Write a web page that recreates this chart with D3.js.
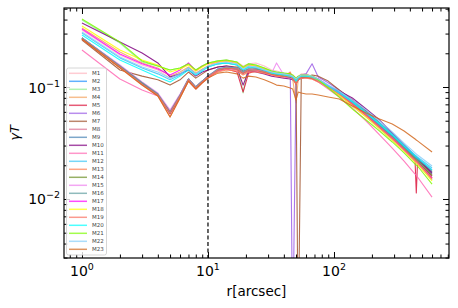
<!DOCTYPE html>
<html lang="en">
<head>
<meta charset="UTF-8">
<title>gamma_T profiles</title>
<script src="https://cdn.jsdelivr.net/npm/d3@7"></script>
<style>
  body { margin: 0; background: #fff; }
  svg { display: block; font-family: "DejaVu Sans", sans-serif; }
</style>
</head>
<body>
<svg width="458" height="308"></svg>
<script>
// radius grid [arcsec], shared by every profile
var radii = [1, 2, 3, 4, 5, 6, 7, 8, 9, 10, 12, 14, 17, 19, 21, 24, 28, 32, 35, 40, 45, 47, 50, 52, 55, 60, 67, 75, 90, 110, 140, 180, 230, 290, 360, 440, 450, 460, 600];

var names = ["M1", "M2", "M3", "M4", "M5", "M6", "M7", "M8", "M9", "M10", "M11", "M12",
    "M13", "M14", "M15", "M16", "M17", "M18", "M19", "M20", "M21", "M22", "M23"];

var colors = ["#ffb6c1", "#1e90ff", "#90ee90", "#f4a460", "#dc143c", "#9b5de5", "#a0522d", "#db7093",
    "#4682b4", "#800080", "#ff69b4", "#3cc6f5", "#ff7f50", "#6b8e23", "#ee82ee", "#5f9ea0",
    "#ff00ff", "#ffff00", "#fa7060", "#00ffff", "#7cfc00", "#87cefa", "#d2691e"];

// gamma_T values, one entry per radius
var M1 = [.323, .193, .157, .142, .120, .131, .148, .131, .142, .154, .167, .174, .167, .154, .161, .164, .154, .142, .139, .133, .131, .128, .120, .125, .131, .131, .125, .118, .104, .0884, .0720, .0574, .0449, .0351, .0280, .0228, .0223, .0218, .0160];
var M2 = [.274, .154, .109, .0866, .0598, .0848, .118, .100, .113, .125, .145, .151, .148, .136, .145, .142, .136, .133, .128, .125, .125, .120, .109, .118, .123, .125, .120, .116, .102, .0884, .0720, .0574, .0449, .0358, .0285, .0232, .0228, .0223, .0167];
var M3 = [.397, .247, .167, .154, .142, .148, .161, .142, .154, .164, .171, .174, .167, .0884, .161, .157, .148, .139, .136, .133, .128, .125, .118, .123, .128, .128, .125, .118, .102, .0866, .0691, .0551, .0431, .0343, .0274, .0218, .0214, .0210, .0148];
var M4 = [.336, .205, .164, .148, .125, .136, .151, .133, .145, .154, .161, .164, .157, .142, .151, .148, .139, .131, .128, .125, .123, .118, .0720, .116, .123, .123, .120, .116, .102, .0902, .0735, .0586, .0458, .0365, .0291, .0237, .0232, .0228, .0174];
var M5 = [.268, .151, .106, .0848, .0574, .0814, .113, .0960, .109, .120, .139, .145, .136, .0902, .133, .139, .133, .131, .125, .128, .131, .120, .106, .116, .120, .123, .120, .113, .100, .0848, .0691, .0551, .0431, .0343, .0274, .0218, .0113, .0210, .0154];
var M6 = [.274, .154, .109, .0866, .0611, .0848, .118, .100, .113, .125, .142, .148, .145, .136, .142, .145, .139, .133, .131, .128, .125, .0005, .116, .123, .128, .131, .161, .123, .109, .0940, .0766, .0611, .0477, .0381, .0297, .0242, .0237, .0232, .0182];
var M7 = [.263, .142, .125, .116, .104, .116, .136, .120, .131, .142, .151, .154, .151, .139, .145, .145, .139, .131, .128, .125, .123, .120, .113, .0005, .120, .123, .128, .125, .113, .0940, .0766, .0611, .0477, .0373, .0291, .0237, .0232, .0228, .0164];
var M8 = [.268, .151, .106, .0848, .0598, .0831, .116, .0980, .111, .123, .142, .148, .142, .131, .139, .139, .136, .131, .128, .123, .123, .120, .111, .118, .123, .123, .120, .113, .100, .0848, .0691, .0551, .0431, .0343, .0274, .0223, .0218, .0214, .0160];
var M9 = [.274, .151, .106, .0848, .0586, .0831, .116, .0980, .111, .123, .142, .148, .145, .133, .142, .142, .136, .131, .128, .125, .120, .118, .109, .116, .120, .123, .120, .116, .102, .0884, .0735, .0586, .0458, .0365, .0291, .0237, .0232, .0228, .0174];
var M10 = [.373, .252, .201, .164, .123, .131, .142, .125, .136, .142, .151, .154, .148, .104, .139, .136, .131, .125, .123, .120, .118, .116, .111, .116, .120, .125, .125, .116, .102, .0921, .0798, .0636, .0507, .0389, .0304, .0242, .0237, .0232, .0171];
var M11 = [.214, .118, .0940, .0831, .0598, .0831, .116, .0980, .111, .123, .139, .145, .142, .131, .139, .139, .133, .128, .125, .123, .120, .118, .109, .116, .120, .120, .118, .111, .0960, .0814, .0649, .0497, .0373, .0285, .0218, .0167, .0164, .0157, .0104];
var M12 = [.304, .182, .148, .131, .116, .128, .148, .131, .142, .151, .161, .164, .157, .142, .151, .148, .139, .133, .131, .128, .125, .123, .116, .120, .125, .125, .123, .116, .102, .0902, .0750, .0598, .0477, .0381, .0304, .0247, .0242, .0237, .0189];
var M13 = [.268, .148, .104, .0831, .0540, .0798, .113, .0960, .109, .120, .136, .142, .139, .128, .136, .136, .133, .128, .125, .123, .136, .118, .106, .116, .120, .120, .118, .111, .0980, .0848, .0691, .0551, .0431, .0343, .0274, .0218, .0214, .0210, .0154];
var M14 = [.274, .154, .109, .0866, .0598, .0848, .118, .100, .113, .125, .142, .148, .145, .133, .142, .142, .136, .131, .128, .125, .123, .120, .111, .118, .123, .123, .120, .113, .100, .0866, .0705, .0562, .0439, .0351, .0280, .0228, .0223, .0218, .0160];
var M15 = [.274, .157, .111, .0884, .0623, .0866, .118, .100, .113, .125, .145, .151, .148, .136, .145, .142, .139, .133, .164, .128, .125, .123, .113, .120, .125, .125, .123, .113, .0980, .0848, .0677, .0540, .0422, .0336, .0268, .0214, .0210, .0205, .0148];
var M16 = [.274, .154, .109, .0866, .0598, .0848, .118, .100, .113, .125, .145, .151, .148, .136, .145, .145, .139, .133, .131, .128, .125, .123, .113, .120, .125, .125, .123, .116, .102, .0884, .0735, .0586, .0458, .0365, .0291, .0237, .0232, .0228, .0178];
var M17 = [.330, .197, .161, .145, .128, .142, .164, .139, .154, .161, .167, .171, .164, .148, .157, .154, .145, .136, .133, .131, .128, .125, .118, .123, .128, .128, .125, .118, .102, .0884, .0705, .0562, .0439, .0351, .0274, .0218, .0214, .0210, .0154];
var M18 = [.351, .214, .174, .157, .136, .145, .157, .139, .151, .161, .167, .171, .164, .148, .157, .154, .145, .136, .133, .131, .128, .125, .118, .123, .128, .128, .125, .116, .100, .0848, .0677, .0540, .0422, .0336, .0268, .0214, .0210, .0205, .0145];
var M19 = [.268, .151, .106, .0848, .0586, .0831, .116, .0980, .111, .123, .142, .148, .145, .133, .142, .142, .136, .131, .128, .125, .125, .120, .111, .118, .123, .123, .120, .113, .100, .0866, .0705, .0562, .0439, .0351, .0280, .0223, .0218, .0214, .0151];
var M20 = [.291, .174, .142, .123, .111, .125, .142, .128, .139, .151, .161, .164, .157, .142, .151, .151, .142, .133, .131, .128, .125, .123, .113, .120, .125, .125, .123, .116, .102, .0884, .0735, .0586, .0467, .0373, .0297, .0242, .0237, .0232, .0182];
var M21 = [.405, .252, .171, .154, .142, .148, .161, .142, .154, .164, .171, .174, .167, .151, .161, .157, .148, .139, .136, .133, .131, .128, .120, .125, .128, .128, .125, .116, .0980, .0814, .0636, .0507, .0405, .0323, .0258, .0205, .0201, .0197, .0136];
var M22 = [.310, .185, .151, .136, .120, .131, .148, .131, .142, .154, .164, .167, .161, .145, .154, .151, .142, .136, .133, .131, .128, .125, .118, .123, .128, .128, .125, .118, .104, .0921, .0766, .0623, .0497, .0397, .0316, .0258, .0252, .0247, .0197];
var M23 = [.268, .148, .104, .0831, .0540, .0798, .113, .0960, .109, .120, .133, .136, .131, .120, .125, .123, .116, .109, .104, .102, .0980, .0960, .0766, .0902, .0884, .0866, .0866, .0848, .0814, .0781, .0677, .0586, .0518, .0467, .0405, .0343, .0336, .0330, .0263];

var profiles = [M1, M2, M3, M4, M5, M6, M7, M8, M9, M10, M11, M12, M13, M14, M15, M16, M17, M18, M19, M20, M21, M22, M23];

// tick values
var xMajor = [1, 10, 100];
var xMinor = [0.8, 0.9, 2, 3, 4, 5, 6, 7, 8, 9, 20, 30, 40, 50, 60, 70, 80, 90, 200, 300, 400, 500, 600, 700, 800];
var yMajor = [0.01, 0.1];
var yMinor = [0.003, 0.004, 0.005, 0.006, 0.007, 0.008, 0.009, 0.02, 0.03, 0.04, 0.05, 0.06, 0.07, 0.08, 0.09, 0.2, 0.3, 0.4, 0.5];
var xTickLabels = ["0", "1", "2"];
var yTickLabels = ["\u22122", "\u22121"];
var rCut = 10;

var svg = d3.select("svg");
// plot box (window.top is read-only, so no "top" here)
var px0 = 64, px1 = 449, py0 = 8, py1 = 258;

var x = d3.scaleLog().domain([0.72, 818]).range([px0, px1]);
var y = d3.scaleLog().domain([0.002972, 0.5075]).range([py1, py0]);

svg.append("defs").append("clipPath").attr("id", "plotArea")
    .append("rect")
    .attr("x", px0).attr("y", py0)
    .attr("width", px1 - px0).attr("height", py1 - py0);

// profiles
var line = d3.line()
    .x(function (d) { return x(d.r); })
    .y(function (d) { return y(d.v); });

var data = profiles.map(function (vals, i) {
    return {
        name: names[i],
        color: colors[i],
        points: vals.map(function (v, j) { return { r: radii[j], v: v }; })
    };
});

svg.append("g")
    .attr("clip-path", "url(#plotArea)")
    .selectAll("path")
    .data(data)
    .enter()
    .append("path")
    .attr("d", function (d) { return line(d.points); })
    .attr("fill", "none")
    .attr("stroke", function (d) { return d.color; })
    .attr("stroke-width", 1.1)
    .attr("stroke-opacity", 0.85)
    .attr("stroke-linejoin", "round");

// dashed line at 10 arcsec
svg.append("line")
    .attr("x1", x(rCut)).attr("x2", x(rCut))
    .attr("y1", py0).attr("y2", py1)
    .attr("stroke", "#000")
    .attr("stroke-width", 1.2)
    .attr("stroke-dasharray", "4,2.5");

// inward ticks on all four sides
function ticks(axis, values, size, tx, ty) {
    var g = svg.append("g")
        .attr("transform", "translate(" + tx + "," + ty + ")")
        .call(axis.tickValues(values).tickSize(-size).tickFormat(""));
    g.select(".domain").remove();
    g.selectAll(".tick line").attr("stroke", "#000").attr("stroke-width", 1);
}
ticks(d3.axisBottom(x), xMajor, 6, 0, py1);
ticks(d3.axisBottom(x), xMinor, 3.5, 0, py1);
ticks(d3.axisTop(x), xMajor, 6, 0, py0);
ticks(d3.axisTop(x), xMinor, 3.5, 0, py0);
ticks(d3.axisLeft(y), yMajor, 6, px0, 0);
ticks(d3.axisLeft(y), yMinor, 3.5, px0, 0);
ticks(d3.axisRight(y), yMajor, 6, px1, 0);
ticks(d3.axisRight(y), yMinor, 3.5, px1, 0);

// frame
svg.append("rect")
    .attr("x", px0).attr("y", py0)
    .attr("width", px1 - px0).attr("height", py1 - py0)
    .attr("fill", "none")
    .attr("stroke", "#000")
    .attr("stroke-width", 1.2);

// tick labels as 10^n
xMajor.forEach(function (v, i) {
    var t = svg.append("text")
        .attr("x", x(v)).attr("y", 276)
        .attr("text-anchor", "middle")
        .attr("font-size", 14)
        .attr("fill", "#000")
        .text("10");
    t.append("tspan").attr("dy", -6).attr("font-size", 9.5).text(xTickLabels[i]);
});
yMajor.forEach(function (v, i) {
    var t = svg.append("text")
        .attr("x", 60).attr("y", y(v) + 5.5)
        .attr("text-anchor", "end")
        .attr("font-size", 14)
        .attr("fill", "#000")
        .text("10");
    t.append("tspan").attr("dy", -6).attr("font-size", 9.5).text(yTickLabels[i]);
});

// axis titles
svg.append("text")
    .attr("x", (px0 + px1) / 2).attr("y", 296)
    .attr("text-anchor", "middle")
    .attr("font-size", 13.5)
    .text("r[arcsec]");

svg.append("text")
    .attr("transform", "translate(19," + ((py0 + py1) / 2) + ") rotate(-90)")
    .attr("text-anchor", "middle")
    .attr("font-size", 13)
    .attr("font-style", "italic")
    .text("\u03b3T");

// legend
var legend = svg.append("g");
legend.append("rect")
    .attr("x", 66.5).attr("y", 68)
    .attr("width", 40).attr("height", 187)
    .attr("rx", 2)
    .attr("fill", "#fff").attr("fill-opacity", 0.8)
    .attr("stroke", "#ccc").attr("stroke-width", 0.8);

var item = legend.selectAll("g.item")
    .data(data)
    .enter()
    .append("g")
    .attr("class", "item")
    .attr("transform", function (d, i) { return "translate(0," + (73.3 + i * 8) + ")"; });
item.append("line")
    .attr("x1", 69).attr("x2", 87)
    .attr("stroke", function (d) { return d.color; })
    .attr("stroke-opacity", 0.7)
    .attr("stroke-width", 1.5);
item.append("text")
    .attr("x", 92).attr("dy", "0.35em")
    .attr("font-size", 5.5)
    .attr("fill", "#444")
    .text(function (d) { return d.name; });
</script>
</body>
</html>
